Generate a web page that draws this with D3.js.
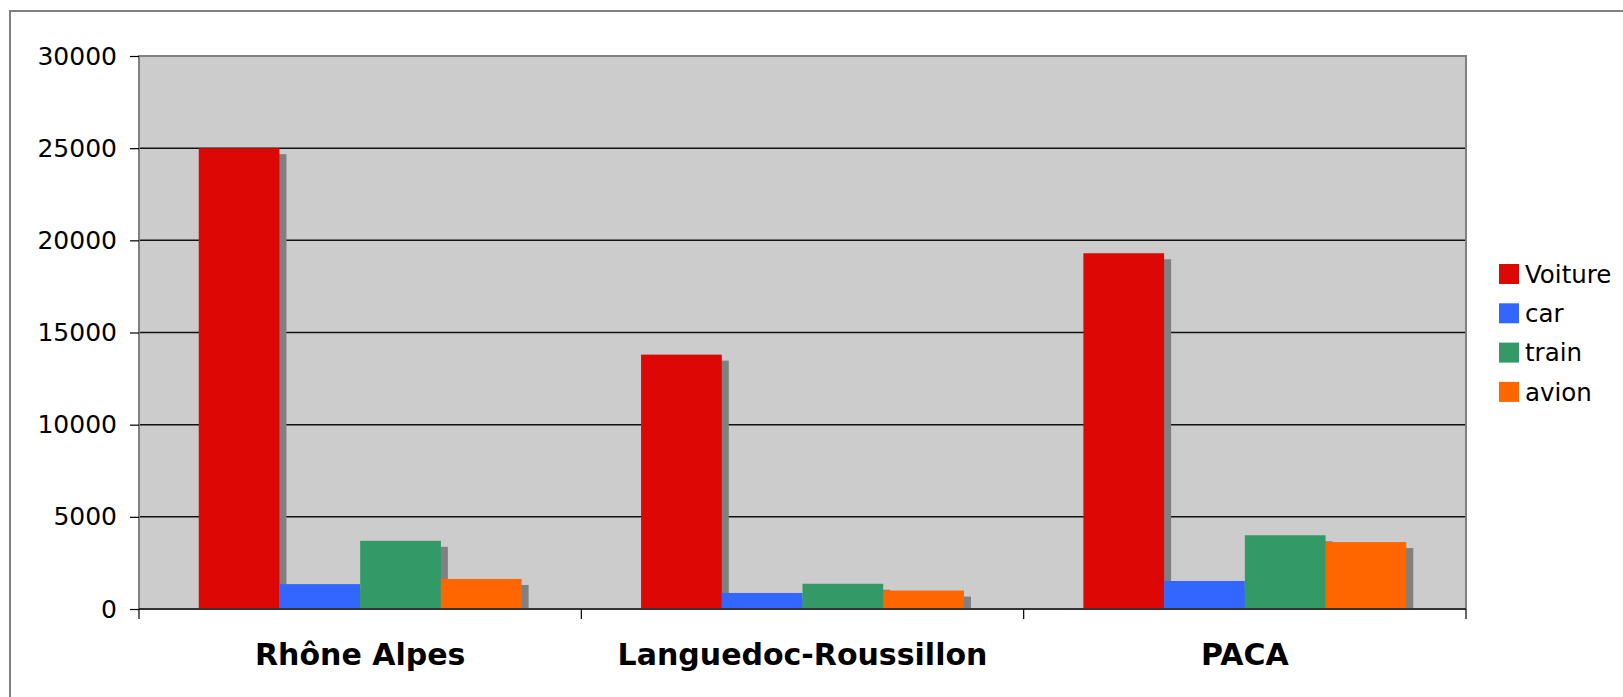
<!DOCTYPE html>
<html>
<head>
<meta charset="utf-8">
<script src="https://cdn.jsdelivr.net/npm/d3@7"></script>
<style>
  body { margin: 0; background: #fff; }
  svg { display: block; font-family: "DejaVu Sans", Verdana, sans-serif; }
</style>
</head>
<body>
<svg id="chart" width="1623" height="697"></svg>
<script>
// data
const regions = ['Rhône Alpes', 'Languedoc-Roussillon', 'PACA'];
const modes = ['Voiture', 'car', 'train', 'avion'];
const voiture = [25000, 13800, 19300];
const car = [1350, 870, 1520];
const train = [3700, 1370, 4000];
const avion = [1630, 1000, 3630];
const yTicks = [0, 5000, 10000, 15000, 20000, 25000, 30000];
const colors = ['#dd0806', '#3366ff', '#339966', '#ff6600'];

const seriesValues = [voiture, car, train, avion];

// plot area
const plotLeft = 139, plotRight = 1466, plotTop = 56, plotBottom = 609;

const svg = d3.select('#chart');

// outer frame
svg.append('rect')
    .attr('x', 10).attr('y', 11)
    .attr('width', 1700).attr('height', 800)
    .attr('fill', 'none')
    .attr('stroke', '#808080')
    .attr('stroke-width', 2);

// scales
const x0 = d3.scaleBand().domain(regions).range([plotLeft, plotRight]).padding(0);
const x1 = d3.scaleBand().domain(modes).range([0, x0.bandwidth()])
    .paddingInner(0).paddingOuter(0.74);
const y = d3.scaleLinear().domain([0, 30000]).range([plotBottom, plotTop]);
const color = d3.scaleOrdinal().domain(modes).range(colors);

// grey background of plot area
svg.append('rect')
    .attr('x', plotLeft).attr('y', plotTop)
    .attr('width', plotRight - plotLeft).attr('height', plotBottom - plotTop)
    .attr('fill', '#cccccc');

// gridlines
svg.append('g')
    .selectAll('line')
    .data(yTicks.filter(d => d > 0 && d < 30000))
    .enter().append('line')
    .attr('x1', plotLeft).attr('x2', plotRight)
    .attr('y1', d => y(d)).attr('y2', d => y(d))
    .attr('stroke', '#111')
    .attr('stroke-width', 1.5);

// plot border (left / top / right)
svg.append('path')
    .attr('d', `M${plotLeft},${plotBottom}V${plotTop}H${plotRight}V${plotBottom}`)
    .attr('fill', 'none')
    .attr('stroke', '#808080')
    .attr('stroke-width', 2);

// bars with their drop shadows, clipped at the baseline
svg.append('clipPath').attr('id', 'plotclip')
    .append('rect')
    .attr('x', plotLeft).attr('y', plotTop)
    .attr('width', plotRight - plotLeft).attr('height', plotBottom - plotTop);

const barData = [];
regions.forEach((r, i) => {
    modes.forEach((m, j) => {
        barData.push({ region: r, mode: m, value: seriesValues[j][i] });
    });
});

const bars = svg.append('g').attr('clip-path', 'url(#plotclip)');
barData.forEach(d => {
    const bx = x0(d.region) + x1(d.mode);
    bars.append('rect')
        .attr('x', bx + 7)
        .attr('y', y(d.value) + 6)
        .attr('width', x1.bandwidth())
        .attr('height', plotBottom - y(d.value))
        .attr('fill', '#808080');
    bars.append('rect')
        .attr('x', bx)
        .attr('y', y(d.value))
        .attr('width', x1.bandwidth())
        .attr('height', plotBottom - y(d.value))
        .attr('fill', color(d.mode));
});

// y axis
const yAxis = svg.append('g')
    .attr('transform', `translate(${plotLeft},0)`)
    .call(d3.axisLeft(y).tickValues(yTicks).tickFormat(d3.format('d'))
        .tickSizeInner(9).tickSizeOuter(0).tickPadding(13));
yAxis.select('.domain').remove();
yAxis.selectAll('line').attr('stroke', '#000').attr('stroke-width', 1.2);
yAxis.selectAll('text')
    .attr('font-size', 25)
    .attr('font-family', '"DejaVu Sans", Verdana, sans-serif')
    .attr('fill', '#000');

// x axis line and boundary ticks
svg.append('line')
    .attr('x1', plotLeft).attr('x2', plotRight)
    .attr('y1', plotBottom).attr('y2', plotBottom)
    .attr('stroke', '#333')
    .attr('stroke-width', 2);

const bounds = regions.map(r => x0(r)).concat([x0(regions[regions.length - 1]) + x0.bandwidth()]);
svg.append('g')
    .selectAll('line')
    .data(bounds)
    .enter().append('line')
    .attr('x1', d => d).attr('x2', d => d)
    .attr('y1', plotBottom).attr('y2', plotBottom + 10)
    .attr('stroke', '#000')
    .attr('stroke-width', 1.2);

svg.append('g')
    .selectAll('text')
    .data(regions)
    .enter().append('text')
    .attr('x', d => x0(d) + x0.bandwidth() / 2)
    .attr('y', 665)
    .attr('text-anchor', 'middle')
    .attr('font-size', 30)
    .attr('font-weight', 'bold')
    .attr('fill', '#000')
    .text(d => d);

// legend
const legend = svg.append('g')
    .selectAll('g')
    .data(modes)
    .enter().append('g')
    .attr('transform', (d, i) => `translate(1499,${264 + i * 39.3})`);

legend.append('rect')
    .attr('width', 20).attr('height', 20)
    .attr('fill', d => color(d));

legend.append('text')
    .attr('x', 26)
    .attr('y', 10)
    .attr('dy', '0.36em')
    .attr('font-size', 24.5)
    .attr('fill', '#000')
    .text(d => d);
</script>
</body>
</html>
